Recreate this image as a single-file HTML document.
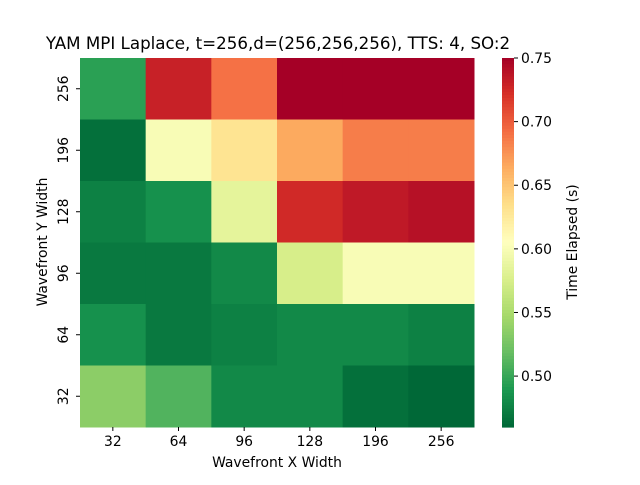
<!DOCTYPE html>
<html><head><meta charset="utf-8"><style>
body{margin:0;background:#fff;}
svg text{font-family:"DejaVu Sans","Liberation Sans",sans-serif;fill:#000;}
</style></head><body>
<svg id="chart" width="640" height="480">
<text x="278" y="49" text-anchor="middle" font-size="16.7">YAM MPI Laplace, t=256,d=(256,256,256), TTS: 4, SO:2</text>
<g id="cells"></g><g id="xt"></g><g id="yt"></g><g id="cb"></g>
<text x="277" y="467" text-anchor="middle" font-size="13.9">Wavefront X Width</text>
<text transform="translate(47,242) rotate(-90)" text-anchor="middle" font-size="13.9">Wavefront Y Width</text>
<text transform="translate(577,242) rotate(-90)" text-anchor="middle" font-size="13.9">Time Elapsed (s)</text>
</svg>
<script>
const xLabels=["32","64","96","128","196","256"];
const yLabels=["256","196","128","96","64","32"];
const values=[
[0.495,0.73,0.69,0.75,0.75,0.75],
[0.465,0.60,0.63,0.665,0.685,0.685],
[0.475,0.485,0.585,0.725,0.735,0.74],
[0.47,0.47,0.48,0.575,0.60,0.60],
[0.485,0.47,0.475,0.48,0.48,0.475],
[0.535,0.51,0.48,0.48,0.465,0.46]];
const cbTicks=[0.50,0.55,0.60,0.65,0.70,0.75];
const vmin=0.46,vmax=0.75;
const X0=80,X1=474,Y0=58,Y1=427;
const pal=["#006837","#1a9850","#66bd63","#a6d96a","#d9ef8b","#ffffbf","#fee08b","#fdae61","#f46d43","#d73027","#a50026"];
function hex(h){return [1,3,5].map(i=>parseInt(h.substr(i,2),16));}
function cmap(v){let t=Math.max(0,Math.min(1,(v-vmin)/(vmax-vmin)))*10;let i=Math.min(9,Math.floor(t)),f=t-i;
const a=hex(pal[i]),b=hex(pal[i+1]);return "rgb("+a.map((c,k)=>Math.round(c+(b[k]-c)*f)).join(",")+")";}
const NS="http://www.w3.org/2000/svg";
function mk(tag,attrs,parent){const e=document.createElementNS(NS,tag);for(const k in attrs)e.setAttribute(k,attrs[k]);document.getElementById(parent).appendChild(e);return e;}
const cw=(X1-X0)/xLabels.length,ch=(Y1-Y0)/yLabels.length;
values.forEach((row,r)=>row.forEach((v,c)=>{
const e=mk("rect",{x:X0+c*cw,y:Y0+r*ch,width:cw+0.5,height:ch+0.5,fill:cmap(v)},"cells");


}));
xLabels.forEach((l,i)=>{const x=X0+(i+0.5)*cw;
mk("line",{x1:x,x2:x,y1:Y1,y2:Y1+4,stroke:"#000"},"xt");
const t=mk("text",{x:x,y:Y1+19,"text-anchor":"middle","font-size":13.9},"xt");t.textContent=l;

});
yLabels.forEach((l,i)=>{const y=Y0+(i+0.5)*ch;
mk("line",{x1:X0-4,x2:X0,y1:y,y2:y,stroke:"#000"},"yt");
const t=mk("text",{transform:"translate("+(X0-12)+","+y+") rotate(-90)","text-anchor":"middle","font-size":13.9},"yt");t.textContent=l;

});
const CX=502,CW=12,N=120;
for(let i=0;i<N;i++){const v=vmax-(i+0.5)/N*(vmax-vmin);
const e=mk("rect",{x:CX,y:Y0+i*(Y1-Y0)/N,width:CW,height:(Y1-Y0)/N+0.6,fill:cmap(v)},"cb");

}
cbTicks.forEach(v=>{const y=Y1-(v-vmin)/(vmax-vmin)*(Y1-Y0);
mk("line",{x1:CX+CW,x2:CX+CW+4,y1:y,y2:y,stroke:"#000"},"cb");
const t=mk("text",{x:CX+CW+7,y:y+5,"font-size":13.9},"cb");t.textContent=v.toFixed(2);

});
</script>
</body></html>
